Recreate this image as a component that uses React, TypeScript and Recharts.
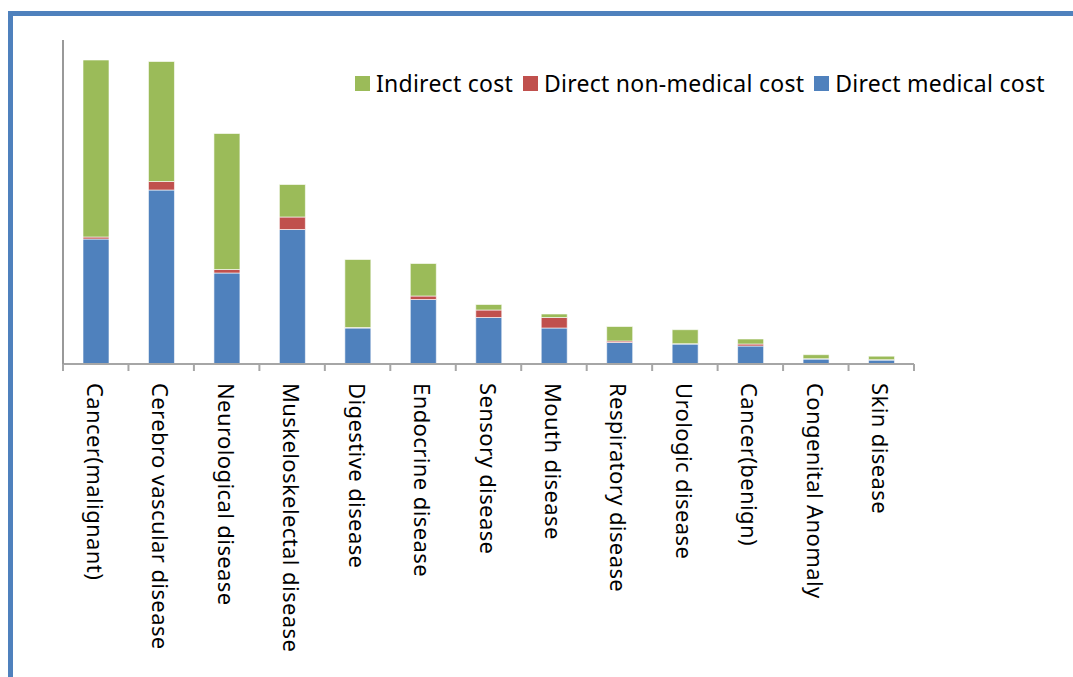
import React from 'react';
import { BarChart, Bar, XAxis, YAxis, Legend } from 'recharts';

const categories = [
  'Cancer(malignant)',
  'Cerebro vascular disease',
  'Neurological disease',
  'Muskeloskelectal disease',
  'Digestive disease',
  'Endocrine disease',
  'Sensory disease',
  'Mouth disease',
  'Respiratory disease',
  'Urologic disease',
  'Cancer(benign)',
  'Congenital Anomaly',
  'Skin disease',
];

// values (no axis scale shown, relative units)
const directMedical = [125, 174, 91, 134.5, 36, 64.5, 46.5, 36, 21.5, 20, 18, 5, 4];
const directNonMedical = [2, 8.5, 3.5, 12.5, 0.5, 3.5, 7.5, 10.5, 1.5, 0.3, 2, 0.3, 0.3];
const indirect = [177, 120, 136, 32.5, 68, 32.5, 5.5, 3.5, 14.5, 14, 5, 4, 3.5];

const yDomain = [0, 324];

const data = categories.map((name, i) => ({
  name,
  medical: directMedical[i],
  nonMedical: directNonMedical[i],
  indirect: indirect[i],
}));

const CHART_W = 1073;
const CHART_H = 677;
const X_AXIS_H = 30;
const Y_AXIS_W = 10;
// plot area: x 63..914, y 40..364
const margin = { top: 40, right: 159, bottom: 313 - X_AXIS_H, left: 63 - Y_AXIS_W };
const halfBand = (914 - 63) / categories.length / 2;

const CategoryTick = (props: any) => {
  const { x, y, payload, index } = props;
  const last = index === categories.length - 1;
  return (
    <g>
      <line x1={x - halfBand} x2={x - halfBand} y1={y} y2={y + 7} stroke="#a6a6a6" strokeWidth={2} />
      {last && (
        <line x1={x + halfBand} x2={x + halfBand} y1={y} y2={y + 7} stroke="#a6a6a6" strokeWidth={2} />
      )}
      <text
        transform={`translate(${x},${y + 19}) rotate(90)`}
        textAnchor="start"
        dominantBaseline="central"
        fontFamily='"Noto Sans", sans-serif'
        fontSize={22}
        letterSpacing={0.4}
        fill="#000"
      >
        {payload.value}
      </text>
    </g>
  );
};

const renderLegend = (props: any) => {
  const items = [...(props.payload || [])].reverse();
  return (
    <div
      style={{
        display: 'flex',
        alignItems: 'center',
        fontFamily: '"Noto Sans", sans-serif',
        fontSize: 23,
        letterSpacing: 0.25,
        color: '#000',
        whiteSpace: 'nowrap',
      }}
    >
      {items.map((it: any) => (
        <span key={it.value} style={{ display: 'flex', alignItems: 'center', marginRight: 10 }}>
          <span style={{ width: 15, height: 15, background: it.color, marginRight: 6, display: 'inline-block' }} />
          {it.value}
        </span>
      ))}
    </div>
  );
};

export default function App() {
  return (
    <div
      style={{
        position: 'fixed',
        left: 0,
        top: 0,
        width: CHART_W,
        height: CHART_H,
        overflow: 'hidden',
        background: '#fff',
      }}
    >
      <div
        style={{
          position: 'absolute',
          left: 8,
          top: 11,
          width: 1200,
          height: 800,
          borderLeft: '5px solid #4f81bd',
          borderTop: '5px solid #4f81bd',
        }}
      />
      <div style={{ position: 'absolute', left: 0, top: 0 }}>
        <BarChart width={CHART_W} height={CHART_H} data={data} margin={margin} barSize={26}>
          <XAxis
            dataKey="name"
            height={X_AXIS_H}
            interval={0}
            tickSize={0}
            tickMargin={0}
            tickLine={false}
            axisLine={{ stroke: '#a6a6a6', strokeWidth: 2 }}
            tick={<CategoryTick />}
          />
          <YAxis
            width={Y_AXIS_W}
            domain={yDomain}
            tick={false}
            tickLine={false}
            axisLine={{ stroke: '#999', strokeWidth: 2 }}
          />
          <Legend
            layout="horizontal"
            verticalAlign="middle"
            align="center"
            wrapperStyle={{ top: 67, left: 355, width: 'auto' }}
            content={renderLegend}
          />
          <Bar dataKey="medical" name="Direct medical cost" stackId="a" fill="#4f81bd" stroke="#fff" strokeWidth={0.6} isAnimationActive={false} />
          <Bar dataKey="nonMedical" name="Direct non-medical cost" stackId="a" fill="#c0504d" stroke="#fff" strokeWidth={0.6} isAnimationActive={false} />
          <Bar dataKey="indirect" name="Indirect cost" stackId="a" fill="#9bbb59" stroke="#fff" strokeWidth={0.6} isAnimationActive={false} />
        </BarChart>
      </div>
    </div>
  );
}
